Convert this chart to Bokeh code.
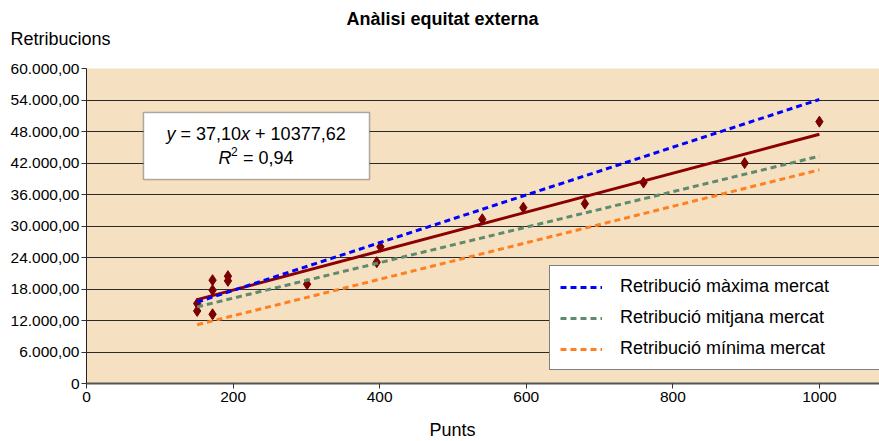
from bokeh.plotting import figure
from bokeh.models import Range1d, FixedTicker, Label, BoxAnnotation, Legend, LegendItem, Title
from bokeh.embed import file_html
from bokeh.resources import INLINE

# ---- data ----
punts = [151, 151, 172, 172, 172, 193, 193, 301, 396, 401, 540, 596, 680, 760, 898, 1000]
retribucions = [15230, 13815, 19680, 17770, 13185, 20445, 19550, 18920,
                23100, 26050, 31280, 33500, 34250, 38275, 41980, 49875]

mercat_x = [151, 1000]
mercat_maxima = [15500, 54100]
mercat_mitjana = [14600, 43300]
mercat_minima = [11200, 40700]

trend_slope = 37.10
trend_intercept = 10377.62
r_squared = 0.94

x_ticks = [0, 200, 400, 600, 800, 1000]
y_ticks = [0, 6000, 12000, 18000, 24000, 30000, 36000, 42000, 48000, 54000, 60000]
y_tick_labels = ["0", "6.000,00", "12.000,00", "18.000,00", "24.000,00", "30.000,00",
                 "36.000,00", "42.000,00", "48.000,00", "54.000,00", "60.000,00"]

title_text = "Anàlisi equitat externa"
y_title = "Retribucions"
x_title = "Punts"
legend_labels = ["Retribució màxima mercat", "Retribució mitjana mercat", "Retribució mínima mercat"]

FONT = "Liberation Sans"
NB = "\u00a0"

# frame geometry in the page (pixels)
FL, FT, FB = 86, 68, 383
W, H = 879, 441

p = figure(width=W, height=H, output_backend="svg", toolbar_location=None,
           x_range=Range1d(0, 1082), y_range=Range1d(0, 60000),
           min_border_left=FL, min_border_right=0, min_border_top=FT,
           min_border_bottom=H - FB,
           background_fill_color="#F5E0C2", border_fill_color="white",
           outline_line_color=None)

# grid
p.xgrid.grid_line_color = None
p.ygrid.grid_line_color = "#2a2a2a"
p.ygrid.grid_line_width = 1
p.ygrid.ticker = FixedTicker(ticks=y_ticks)

# axes
p.xaxis.ticker = FixedTicker(ticks=x_ticks)
p.yaxis.ticker = FixedTicker(ticks=y_ticks)
p.yaxis.major_label_overrides = {t: l for t, l in zip(y_ticks, y_tick_labels)}
for ax in (p.xaxis, p.yaxis):
    ax.minor_tick_line_color = None
    ax.major_tick_out = 5
    ax.major_tick_in = 0
    ax.major_label_standoff = 2
    ax.major_label_text_font = FONT
    ax.major_label_text_font_size = "15.5px"
    ax.major_label_text_color = "black"
    ax.major_tick_line_color = "#333333"
p.xaxis.major_label_standoff = 3
p.xaxis.axis_line_color = "#555555"
p.xaxis.axis_line_width = 2
p.yaxis.axis_line_color = "#222222"
p.yaxis.axis_line_width = 1

# titles (side panels, stacked outward from the frame); the extra empty line
# in the axis titles reserves the gap between the text and the frame
p.add_layout(Title(text=y_title + "\n", align="left", offset=10 - FL, standoff=0,
                   vertical_align="top", text_line_height=0.89,
                   text_font=FONT, text_font_size="18px", text_font_style="normal",
                   text_color="black"), "above")
p.add_layout(Title(text=title_text, align="left", offset=346 - FL, standoff=0,
                   vertical_align="bottom",
                   text_font=FONT, text_font_size="18px", text_font_style="bold",
                   text_color="black"), "above")
p.add_layout(Title(text="\n" + x_title, align="left", offset=429 - FL, standoff=0,
                   vertical_align="bottom", text_line_height=0.69,
                   text_font=FONT, text_font_size="18px", text_font_style="normal",
                   text_color="black"), "below")

# data points
p.scatter(punts, retribucions, marker="diamond", size=11, color="#7a0000")

# trend line
tx = [min(punts), max(punts)]
ty = [trend_slope * x + trend_intercept for x in tx]
p.line(tx, ty, line_color="#8b0000", line_width=3)

# market lines
r_max = p.line(mercat_x, mercat_maxima, line_color="#0000ff", line_width=3, line_dash="6 4")
r_mit = p.line(mercat_x, mercat_mitjana, line_color="#5f8a6e", line_width=3, line_dash="6 4")
r_min = p.line(mercat_x, mercat_minima, line_color="#ff8020", line_width=3, line_dash="6 4")

legend = Legend(items=[LegendItem(label=legend_labels[0], renderers=[r_max]),
                       LegendItem(label=legend_labels[1], renderers=[r_mit]),
                       LegendItem(label=legend_labels[2], renderers=[r_min])],
                location=(549 - FL, FB - 370), margin=0, padding=10, spacing=10,
                glyph_width=42, glyph_height=20, label_height=20, label_standoff=18,
                label_width=270,
                label_text_font=FONT, label_text_font_size="18px",
                label_text_color="black",
                background_fill_color="white", background_fill_alpha=1.0,
                border_line_color="black", border_line_width=1.5)
p.add_layout(legend)

# equation box
box = BoxAnnotation(left=143 - FL, right=369 - FL, top=FB - 112, bottom=FB - 179,
                    left_units="screen", right_units="screen",
                    top_units="screen", bottom_units="screen",
                    fill_color="white", fill_alpha=1.0,
                    line_color="black", line_width=1.5)
p.add_layout(box)

def lab(text, x, y, size="18px", style="normal", align="left", baseline="middle"):
    p.add_layout(Label(x=x - FL, y=FB - y, x_units="screen", y_units="screen",
                       text=text, text_font=FONT, text_font_size=size,
                       text_font_style=style, text_align=align,
                       text_baseline=baseline, text_color="black"))

slope_s = f"{trend_slope:.2f}".replace(".", ",")
icpt_s = f"{trend_intercept:.2f}".replace(".", ",")
r2_s = f"{r_squared:.2f}".replace(".", ",")

# line 1: y = 37,10x + 10377,62
x0 = 166
lab("y", x0, 133, style="italic")
lab(f"{NB}={NB}{slope_s}", x0 + 9, 133)
lab("x", x0 + 74.6, 133, style="italic")
lab(f"{NB}+{NB}{icpt_s}", x0 + 83.6, 133)
# line 2: R2 = 0,94
x1 = 218
lab("R", x1, 157, style="italic")
lab("2", x1 + 12.5, 151, size="12px")
lab(f"{NB}={NB}{r2_s}", x1 + 19.5, 157)

open("out.html", "w").write(file_html(p, INLINE))
